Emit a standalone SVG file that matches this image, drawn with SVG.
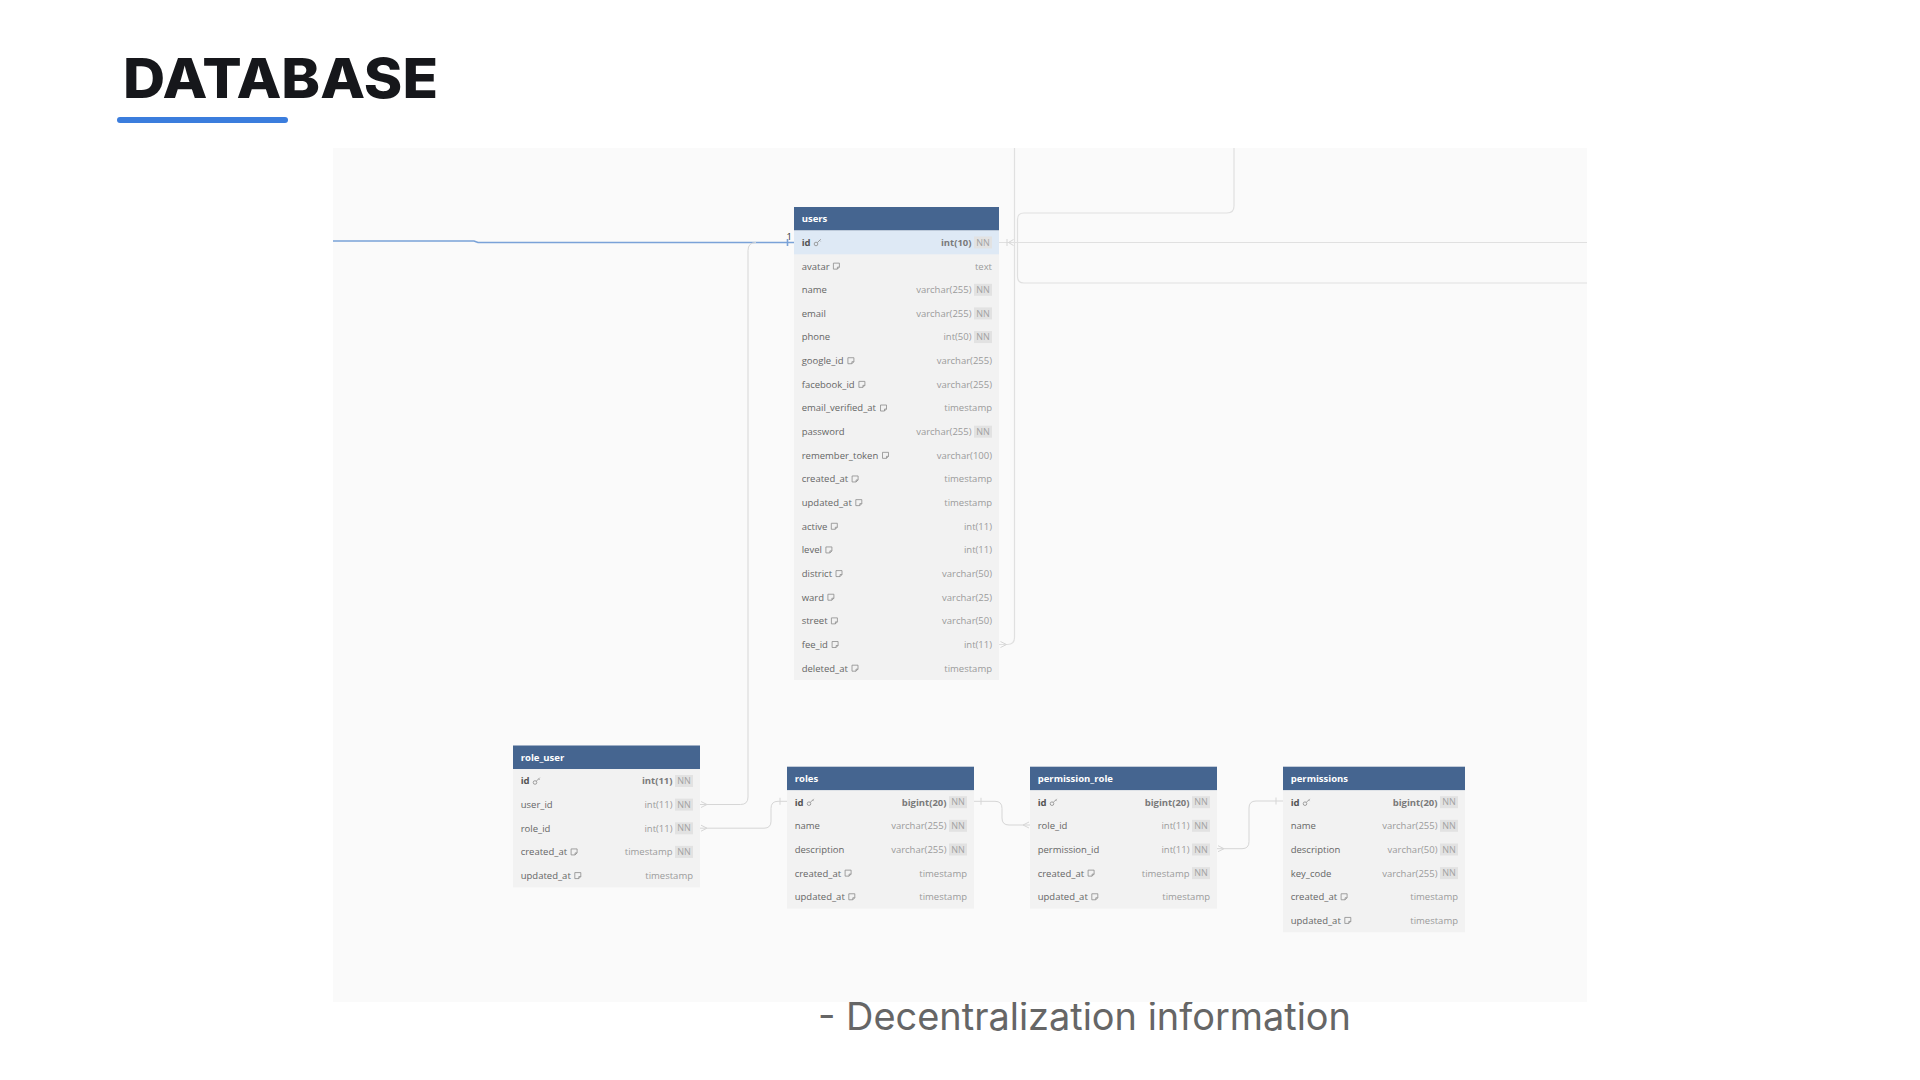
<svg xmlns="http://www.w3.org/2000/svg" width="1920" height="1080" viewBox="0 0 1920 1080">
<style>
.title{font-family:Inter,"Liberation Sans",sans-serif;font-weight:800;font-size:55px;fill:#16171b}
.sub{font-family:Inter,Roboto,"Liberation Sans",sans-serif;font-weight:400;font-size:38px;fill:#666}
.hd{fill:#456590}
.body{fill:#f2f2f2}
.sel{fill:#dee9f5}
.th{font-family:"Open Sans","Noto Sans",sans-serif;font-weight:700;font-size:9.5px;fill:#fff}
.nm{font-family:"Open Sans","Noto Sans",sans-serif;font-size:9.5px;fill:#666}
.pk{font-family:"Open Sans","Noto Sans",sans-serif;font-size:9.5px;font-weight:700;fill:#555}
.ty{font-family:"Open Sans","Noto Sans",sans-serif;font-size:9.5px;fill:#9b9b9b;text-anchor:end}
.tyb{font-family:"Open Sans","Noto Sans",sans-serif;font-size:9.5px;font-weight:700;fill:#7a7a7a;text-anchor:end}
.nnb{fill:#e2e2e2}
.nnt{font-family:"Open Sans","Noto Sans",sans-serif;font-size:9px;fill:#a2a2a2;text-anchor:middle}
.ln{fill:none;stroke:#d6d6d6;stroke-width:1}
.lnr{fill:none;stroke:#e0e0e0;stroke-width:1.2}
.blue{fill:none;stroke:#7aa2d8;stroke-width:1.6}
.one{font-family:"Open Sans","Noto Sans",sans-serif;font-size:9.5px;fill:#333}
</style>
<defs>
<g id="note"><path d="M0.5,-3 H6.5 V1 L4.5,3 H0.5 Z M6.5,1 H4.5 V3" fill="none" stroke="#8c8c8c" stroke-width="0.8"/></g>
<g id="key"><circle cx="2" cy="1.5" r="1.8" fill="none" stroke="#8c8c8c" stroke-width="0.8"/><path d="M3.3,0.2 L6.8,-3.3 M5.6,-2.1 L6.6,-1.1" fill="none" stroke="#8c8c8c" stroke-width="0.8"/></g>
</defs>
<rect width="1920" height="1080" fill="#fff"/>
<text class="title" x="123" y="98" textLength="315" lengthAdjust="spacingAndGlyphs">DATABASE</text>
<rect x="117" y="117" width="171" height="6" rx="3" fill="#3b7ddd"/>
<text class="sub" x="818" y="1030" textLength="533" lengthAdjust="spacingAndGlyphs">- Decentralization information</text>
<rect x="333" y="148" width="1254" height="854" fill="#fafafa"/>

<g id="connectors">
<path class="blue" d="M333,241 H474 L478,242.5 H794"/>
<path class="blue" d="M787.5,239 V246"/>
<text class="one" x="786.5" y="240">1</text>
<path class="ln" d="M756,242.5 Q748,242.5 748,250.5 V797 Q748,804.5 740.5,804.5 H700"/>
<path class="ln" d="M701,801.5 L707,804.5 L701,807.5"/>
<path class="ln" d="M700,828.2 H764 Q771,828.2 771,821.2 V808.3 Q771,801.3 778,801.3 H787"/>
<path class="ln" d="M701,825.2 L707,828.2 L701,831.2 M780,797.8 V804.8"/>
<path class="ln" d="M974,801.3 H995 Q1002,801.3 1002,808.3 V818 Q1002,825 1009,825 H1030"/>
<path class="ln" d="M981,797.8 V804.8 M1029,822 L1023,825 L1029,828"/>
<path class="ln" d="M1217,848.7 H1242 Q1249,848.7 1249,841.7 V808 Q1249,801 1256,801 H1283"/>
<path class="ln" d="M1218,845.7 L1224,848.7 L1218,851.7 M1276,797.5 V804.5"/>
<path class="lnr" d="M999,242.5 H1587"/>
<path class="lnr" d="M1014.5,148 V637.5 Q1014.5,644.5 1007.5,644.5 H999"/>
<path class="ln" d="M1000.5,641.5 L1006.5,644.5 L1000.5,647.5"/>
<path class="lnr" d="M1234,148 V206 Q1234,213 1227,213 H1024 Q1017.5,213 1017.5,219.5 V242.5"/>
<path class="lnr" d="M1587,283 H1024 Q1017.5,283 1017.5,276.5 V242.5"/>
<path class="ln" d="M1007,239 V246 M1013.5,239.5 L1008.5,242.5 L1013.5,245.5"/>
</g>

<g id="users" transform="translate(794,207)">
<rect class="hd" x="0" y="0" width="205" height="23.65"/>
<text class="th" x="7.7" y="15.3">users</text>
<rect class="body" x="0" y="23.65" width="205" height="449.35"/>
<rect class="sel" x="0" y="23.65" width="205" height="23.65"/>
<g transform="translate(0,35.48)"><text class="pk" x="7.7" y="3.4">id</text><use href="#key" x="20" y="0"/><text class="tyb" x="177.5" y="3.4">int(10)</text><rect class="nnb" x="180" y="-6" width="18" height="12"/><text class="nnt" x="189" y="3.2">NN</text></g>
<g transform="translate(0,59.13)"><text class="nm" x="7.7" y="3.4">avatar</text><use href="#note" x="38.9" y="0"/><text class="ty" x="198" y="3.4">text</text></g>
<g transform="translate(0,82.78)"><text class="nm" x="7.7" y="3.4">name</text><text class="ty" x="177.5" y="3.4">varchar(255)</text><rect class="nnb" x="180" y="-6" width="18" height="12"/><text class="nnt" x="189" y="3.2">NN</text></g>
<g transform="translate(0,106.43)"><text class="nm" x="7.7" y="3.4">email</text><text class="ty" x="177.5" y="3.4">varchar(255)</text><rect class="nnb" x="180" y="-6" width="18" height="12"/><text class="nnt" x="189" y="3.2">NN</text></g>
<g transform="translate(0,130.08)"><text class="nm" x="7.7" y="3.4">phone</text><text class="ty" x="177.5" y="3.4">int(50)</text><rect class="nnb" x="180" y="-6" width="18" height="12"/><text class="nnt" x="189" y="3.2">NN</text></g>
<g transform="translate(0,153.73)"><text class="nm" x="7.7" y="3.4">google_id</text><use href="#note" x="53.4" y="0"/><text class="ty" x="198" y="3.4">varchar(255)</text></g>
<g transform="translate(0,177.38)"><text class="nm" x="7.7" y="3.4">facebook_id</text><use href="#note" x="64.4" y="0"/><text class="ty" x="198" y="3.4">varchar(255)</text></g>
<g transform="translate(0,201.03)"><text class="nm" x="7.7" y="3.4">email_verified_at</text><use href="#note" x="86" y="0"/><text class="ty" x="198" y="3.4">timestamp</text></g>
<g transform="translate(0,224.68)"><text class="nm" x="7.7" y="3.4">password</text><text class="ty" x="177.5" y="3.4">varchar(255)</text><rect class="nnb" x="180" y="-6" width="18" height="12"/><text class="nnt" x="189" y="3.2">NN</text></g>
<g transform="translate(0,248.33)"><text class="nm" x="7.7" y="3.4">remember_token</text><use href="#note" x="88" y="0"/><text class="ty" x="198" y="3.4">varchar(100)</text></g>
<g transform="translate(0,271.98)"><text class="nm" x="7.7" y="3.4">created_at</text><use href="#note" x="57.6" y="0"/><text class="ty" x="198" y="3.4">timestamp</text></g>
<g transform="translate(0,295.63)"><text class="nm" x="7.7" y="3.4">updated_at</text><use href="#note" x="61.3" y="0"/><text class="ty" x="198" y="3.4">timestamp</text></g>
<g transform="translate(0,319.28)"><text class="nm" x="7.7" y="3.4">active</text><use href="#note" x="36.8" y="0"/><text class="ty" x="198" y="3.4">int(11)</text></g>
<g transform="translate(0,342.93)"><text class="nm" x="7.7" y="3.4">level</text><use href="#note" x="31.4" y="0"/><text class="ty" x="198" y="3.4">int(11)</text></g>
<g transform="translate(0,366.58)"><text class="nm" x="7.7" y="3.4">district</text><use href="#note" x="41.5" y="0"/><text class="ty" x="198" y="3.4">varchar(50)</text></g>
<g transform="translate(0,390.23)"><text class="nm" x="7.7" y="3.4">ward</text><use href="#note" x="33.4" y="0"/><text class="ty" x="198" y="3.4">varchar(25)</text></g>
<g transform="translate(0,413.88)"><text class="nm" x="7.7" y="3.4">street</text><use href="#note" x="36.9" y="0"/><text class="ty" x="198" y="3.4">varchar(50)</text></g>
<g transform="translate(0,437.53)"><text class="nm" x="7.7" y="3.4">fee_id</text><use href="#note" x="37.6" y="0"/><text class="ty" x="198" y="3.4">int(11)</text></g>
<g transform="translate(0,461.18)"><text class="nm" x="7.7" y="3.4">deleted_at</text><use href="#note" x="57.5" y="0"/><text class="ty" x="198" y="3.4">timestamp</text></g>
</g>

<g id="role_user" transform="translate(513,745.5)">
<rect class="hd" x="0" y="0" width="187" height="23.65"/>
<text class="th" x="7.7" y="15.3">role_user</text>
<rect class="body" x="0" y="23.65" width="187" height="118.25"/>
<g transform="translate(0,35.48)"><text class="pk" x="7.7" y="3.4">id</text><use href="#key" x="20" y="0"/><text class="tyb" x="159.5" y="3.4">int(11)</text><rect class="nnb" x="162" y="-6" width="18" height="12"/><text class="nnt" x="171" y="3.2">NN</text></g>
<g transform="translate(0,59.13)"><text class="nm" x="7.7" y="3.4">user_id</text><text class="ty" x="159.5" y="3.4">int(11)</text><rect class="nnb" x="162" y="-6" width="18" height="12"/><text class="nnt" x="171" y="3.2">NN</text></g>
<g transform="translate(0,82.78)"><text class="nm" x="7.7" y="3.4">role_id</text><text class="ty" x="159.5" y="3.4">int(11)</text><rect class="nnb" x="162" y="-6" width="18" height="12"/><text class="nnt" x="171" y="3.2">NN</text></g>
<g transform="translate(0,106.43)"><text class="nm" x="7.7" y="3.4">created_at</text><use href="#note" x="57.6" y="0"/><text class="ty" x="159.5" y="3.4">timestamp</text><rect class="nnb" x="162" y="-6" width="18" height="12"/><text class="nnt" x="171" y="3.2">NN</text></g>
<g transform="translate(0,130.08)"><text class="nm" x="7.7" y="3.4">updated_at</text><use href="#note" x="61.3" y="0"/><text class="ty" x="180" y="3.4">timestamp</text></g>
</g>

<g id="roles" transform="translate(787,766.7)">
<rect class="hd" x="0" y="0" width="187" height="23.65"/>
<text class="th" x="7.7" y="15.3">roles</text>
<rect class="body" x="0" y="23.65" width="187" height="118.25"/>
<g transform="translate(0,35.48)"><text class="pk" x="7.7" y="3.4">id</text><use href="#key" x="20" y="0"/><text class="tyb" x="159.5" y="3.4">bigint(20)</text><rect class="nnb" x="162" y="-6" width="18" height="12"/><text class="nnt" x="171" y="3.2">NN</text></g>
<g transform="translate(0,59.13)"><text class="nm" x="7.7" y="3.4">name</text><text class="ty" x="159.5" y="3.4">varchar(255)</text><rect class="nnb" x="162" y="-6" width="18" height="12"/><text class="nnt" x="171" y="3.2">NN</text></g>
<g transform="translate(0,82.78)"><text class="nm" x="7.7" y="3.4">description</text><text class="ty" x="159.5" y="3.4">varchar(255)</text><rect class="nnb" x="162" y="-6" width="18" height="12"/><text class="nnt" x="171" y="3.2">NN</text></g>
<g transform="translate(0,106.43)"><text class="nm" x="7.7" y="3.4">created_at</text><use href="#note" x="57.6" y="0"/><text class="ty" x="180" y="3.4">timestamp</text></g>
<g transform="translate(0,130.08)"><text class="nm" x="7.7" y="3.4">updated_at</text><use href="#note" x="61.3" y="0"/><text class="ty" x="180" y="3.4">timestamp</text></g>
</g>

<g id="permission_role" transform="translate(1030,766.7)">
<rect class="hd" x="0" y="0" width="187" height="23.65"/>
<text class="th" x="7.7" y="15.3">permission_role</text>
<rect class="body" x="0" y="23.65" width="187" height="118.25"/>
<g transform="translate(0,35.48)"><text class="pk" x="7.7" y="3.4">id</text><use href="#key" x="20" y="0"/><text class="tyb" x="159.5" y="3.4">bigint(20)</text><rect class="nnb" x="162" y="-6" width="18" height="12"/><text class="nnt" x="171" y="3.2">NN</text></g>
<g transform="translate(0,59.13)"><text class="nm" x="7.7" y="3.4">role_id</text><text class="ty" x="159.5" y="3.4">int(11)</text><rect class="nnb" x="162" y="-6" width="18" height="12"/><text class="nnt" x="171" y="3.2">NN</text></g>
<g transform="translate(0,82.78)"><text class="nm" x="7.7" y="3.4">permission_id</text><text class="ty" x="159.5" y="3.4">int(11)</text><rect class="nnb" x="162" y="-6" width="18" height="12"/><text class="nnt" x="171" y="3.2">NN</text></g>
<g transform="translate(0,106.43)"><text class="nm" x="7.7" y="3.4">created_at</text><use href="#note" x="57.6" y="0"/><text class="ty" x="159.5" y="3.4">timestamp</text><rect class="nnb" x="162" y="-6" width="18" height="12"/><text class="nnt" x="171" y="3.2">NN</text></g>
<g transform="translate(0,130.08)"><text class="nm" x="7.7" y="3.4">updated_at</text><use href="#note" x="61.3" y="0"/><text class="ty" x="180" y="3.4">timestamp</text></g>
</g>

<g id="permissions" transform="translate(1283,766.7)">
<rect class="hd" x="0" y="0" width="182" height="23.65"/>
<text class="th" x="7.7" y="15.3">permissions</text>
<rect class="body" x="0" y="23.65" width="182" height="141.9"/>
<g transform="translate(0,35.48)"><text class="pk" x="7.7" y="3.4">id</text><use href="#key" x="20" y="0"/><text class="tyb" x="154.5" y="3.4">bigint(20)</text><rect class="nnb" x="157" y="-6" width="18" height="12"/><text class="nnt" x="166" y="3.2">NN</text></g>
<g transform="translate(0,59.13)"><text class="nm" x="7.7" y="3.4">name</text><text class="ty" x="154.5" y="3.4">varchar(255)</text><rect class="nnb" x="157" y="-6" width="18" height="12"/><text class="nnt" x="166" y="3.2">NN</text></g>
<g transform="translate(0,82.78)"><text class="nm" x="7.7" y="3.4">description</text><text class="ty" x="154.5" y="3.4">varchar(50)</text><rect class="nnb" x="157" y="-6" width="18" height="12"/><text class="nnt" x="166" y="3.2">NN</text></g>
<g transform="translate(0,106.43)"><text class="nm" x="7.7" y="3.4">key_code</text><text class="ty" x="154.5" y="3.4">varchar(255)</text><rect class="nnb" x="157" y="-6" width="18" height="12"/><text class="nnt" x="166" y="3.2">NN</text></g>
<g transform="translate(0,130.08)"><text class="nm" x="7.7" y="3.4">created_at</text><use href="#note" x="57.6" y="0"/><text class="ty" x="175" y="3.4">timestamp</text></g>
<g transform="translate(0,153.73)"><text class="nm" x="7.7" y="3.4">updated_at</text><use href="#note" x="61.3" y="0"/><text class="ty" x="175" y="3.4">timestamp</text></g>
</g>
</svg>
